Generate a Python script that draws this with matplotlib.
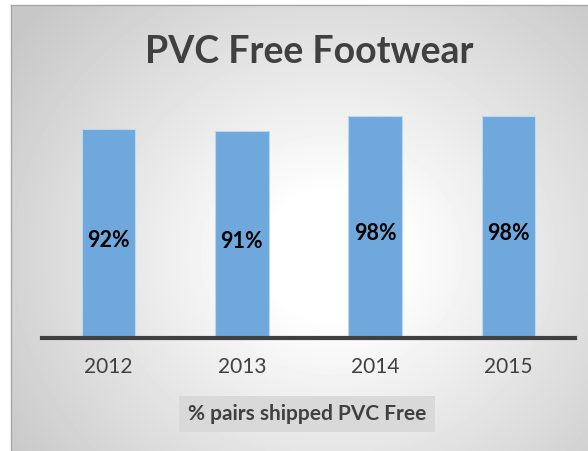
import numpy as np
import matplotlib.pyplot as plt

years = ['2012', '2013', '2014', '2015']
pvc_free = [92, 91, 98, 98]
labels = ['92%', '91%', '98%', '98%']
title = 'PVC Free Footwear'
legend_text = '% pairs shipped PVC Free'

W, H = 588, 451
fig = plt.figure(figsize=(W / 100, H / 100), dpi=100)
fig.patch.set_facecolor('white')

# radial gradient background of the chart area
bg = fig.add_axes([11 / W, 0, 1 - 11 / W, 1 - 5 / H])
yy, xx = np.mgrid[0:446, 0:577]
cx, cy = 320, 250
r = np.sqrt(((xx - cx) / 330.0) ** 2 + ((yy - cy) / 300.0) ** 2)
shade = 1.0 - 0.22 * np.clip(r - 0.2, 0, 1.2) / 1.0
shade = np.clip(shade, 0.78, 1.0)
bg.imshow(shade, cmap='gray', vmin=0, vmax=1, aspect='auto', interpolation='bilinear')
bg.set_xticks([])
bg.set_yticks([])
for s in ['right', 'bottom']:
    bg.spines[s].set_visible(False)
for s in ['left', 'top']:
    bg.spines[s].set_color('#a6a6a6')
    bg.spines[s].set_linewidth(1)

# plot area: x=0 at 42px, bottom at 338px, 100% at ~111px
x0, x1 = 42, 575
yb, yt = 338, 111
ax = fig.add_axes([x0 / W, 1 - yb / H, (x1 - x0) / W, (yb - yt) / H])
ax.patch.set_alpha(0)
x = np.arange(len(years))
ax.bar(x, pvc_free, width=0.4, color='#6fa8dc', edgecolor='#bdd7ee', linewidth=0.8, zorder=2)
ax.set_xlim(-0.5, len(years) - 0.5)
ax.set_ylim(0, 100)
for i, v in enumerate(pvc_free):
    ax.text(i, v / 2 - 3, labels[i], ha='center', va='center', fontsize=15.5,
            fontweight='bold', color='black', family='Lato', zorder=3)
ax.set_yticks([])
ax.set_xticks(x)
ax.set_xticklabels(years, fontsize=15, color='#404040', family='Lato')
ax.tick_params(axis='x', length=0, pad=14)
for s in ['left', 'right', 'top']:
    ax.spines[s].set_visible(False)
ax.spines['bottom'].set_color('#404040')
ax.spines['bottom'].set_linewidth(3)

fig.text(309 / W, 1 - 52 / H, title, ha='center', va='center', fontsize=27,
         fontweight='bold', color='#404040', family='Lato')

fig.text(307 / W, 1 - 414 / H, legend_text, ha='center', va='center', fontsize=15,
         fontweight='bold', color='#404040', family='Lato',
         bbox=dict(boxstyle='square,pad=0.4', facecolor='#d9d9d9', edgecolor='none'))

fig.savefig('out.png', dpi=100)
